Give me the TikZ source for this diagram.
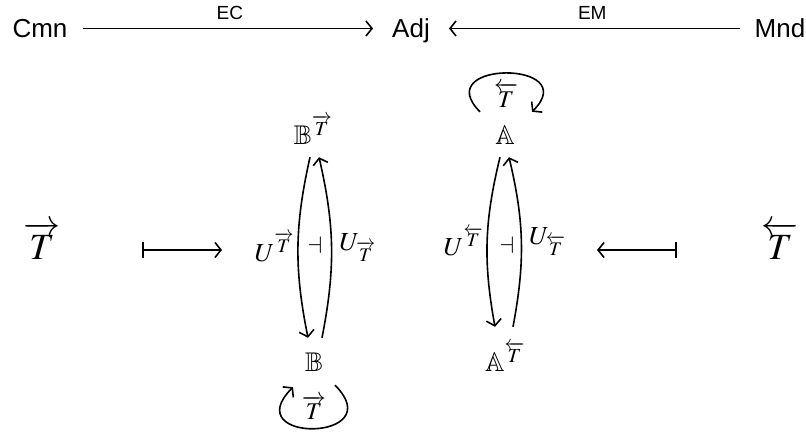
\documentclass[tikz,border=0pt]{standalone}
\usepackage{amsmath, amssymb}
\usepackage{mathptmx}
\usepackage{fontspec}
\setsansfont{Liberation Sans}
\usetikzlibrary{arrows.meta}

\tikzset{
  word/.style={font=\sffamily\fontsize{26}{30}\selectfont, text height=19pt, text depth=0pt, inner sep=0pt, anchor=base},
  tag/.style={font=\sffamily\fontsize{19}{22}\selectfont, inner sep=0pt},
  cell/.style={font=\fontsize{27}{30}\selectfont, text height=24pt, text depth=0pt, inner sep=0pt, anchor=base},
  side/.style={font=\fontsize{37}{42}\selectfont, inner sep=0pt, anchor=base},
  lab/.style={font=\fontsize{26}{30}\selectfont, inner sep=0pt},
  loopla/.style={font=\fontsize{24}{27}\selectfont, inner sep=0pt, text depth=0pt},
  arr/.style={line width=1.6pt, -{Straight Barb[length=6pt,width=15pt]}},
  mapsto/.style={line width=1.6pt, {Bar[width=16pt]}-{Straight Barb[length=6pt,width=15pt]}},
}

\begin{document}
\begin{tikzpicture}[x=1pt, y=1pt]
    \useasboundingbox (0,0) rectangle (806,436);

    % top row
    \node[word] (cmn) at (40,398) {Cmn};
    \node[word] (adj) at (411,398) {Adj};
    \node[word] (mnd) at (780,398) {Mnd};
    \draw[arr, shorten <=15pt, shorten >=19pt] (cmn) -- node[tag, above=8pt] {EC} (adj);
    \draw[arr, shorten <=15pt, shorten >=19pt] (mnd) -- node[tag, above=8pt] {EM} (adj);

    % the two monads
    \node[side] (tl) at (42,176) {$\overrightarrow{T}$};
    \node[side] (tr) at (780,176) {$\overleftarrow{T}$};
    \coordinate (ml1) at (142,186);
    \coordinate (ml2) at (222,186);
    \coordinate (mr1) at (677,186);
    \coordinate (mr2) at (597,186);
    \draw[mapsto] (ml1) -- (ml2);
    \draw[mapsto] (mr1) -- (mr2);

    % categories
    \node[cell] (bt) at (313,291) {$\mathbb{B}^{\overrightarrow{T}}$};
    \node[cell] (b) at (314,64) {$\mathbb{B}$};
    \node[cell] (a) at (505,291) {$\mathbb{A}$};
    \node[cell] (at) at (505,64) {$\mathbb{A}^{\overleftarrow{T}}$};

    % adjunctions
    \draw[arr] ([xshift=-3pt,yshift=-12pt]bt.south) to[bend right=12]
        node[midway, left=3pt, lab] {$U^{\overrightarrow{T}}$} ([xshift=-6pt,yshift=10pt]b.north);
    \draw[arr] ([xshift=8pt,yshift=10pt]b.north) to[bend right=12]
        node[midway, right=7pt, lab] {$U_{\overrightarrow{T}}$} ([xshift=6pt,yshift=-12pt]bt.south);
    \node[loopla] (db) at (315,191) {$\dashv$};

    \draw[arr] ([xshift=-5pt,yshift=-12pt]a.south) to[bend right=12]
        node[midway, left=3pt, lab] {$U^{\overleftarrow{T}}$} ([xshift=-10pt,yshift=21pt]at.north);
    \draw[arr] ([xshift=8pt,yshift=21pt]at.north) to[bend right=12]
        node[midway, right=7pt, lab] {$U_{\overleftarrow{T}}$} ([xshift=4pt,yshift=-12pt]a.south);
    \node[loopla] (da) at (507,191) {$\dashv$};

    % loops
    \draw[arr] ([xshift=-25pt,yshift=9pt]a.north) to[out=135, in=45, distance=73pt]
        node[midway, below=9pt, loopla] {$\overleftarrow{T}$} ([xshift=27pt,yshift=9pt]a.north);
    \draw[arr] ([xshift=21pt,yshift=-13pt]b.south) to[out=-45, in=225, distance=80pt]
        node[midway, above=8pt, loopla] {$\overrightarrow{T}$} ([xshift=-21pt,yshift=-15pt]b.south);
\end{tikzpicture}
\end{document}
